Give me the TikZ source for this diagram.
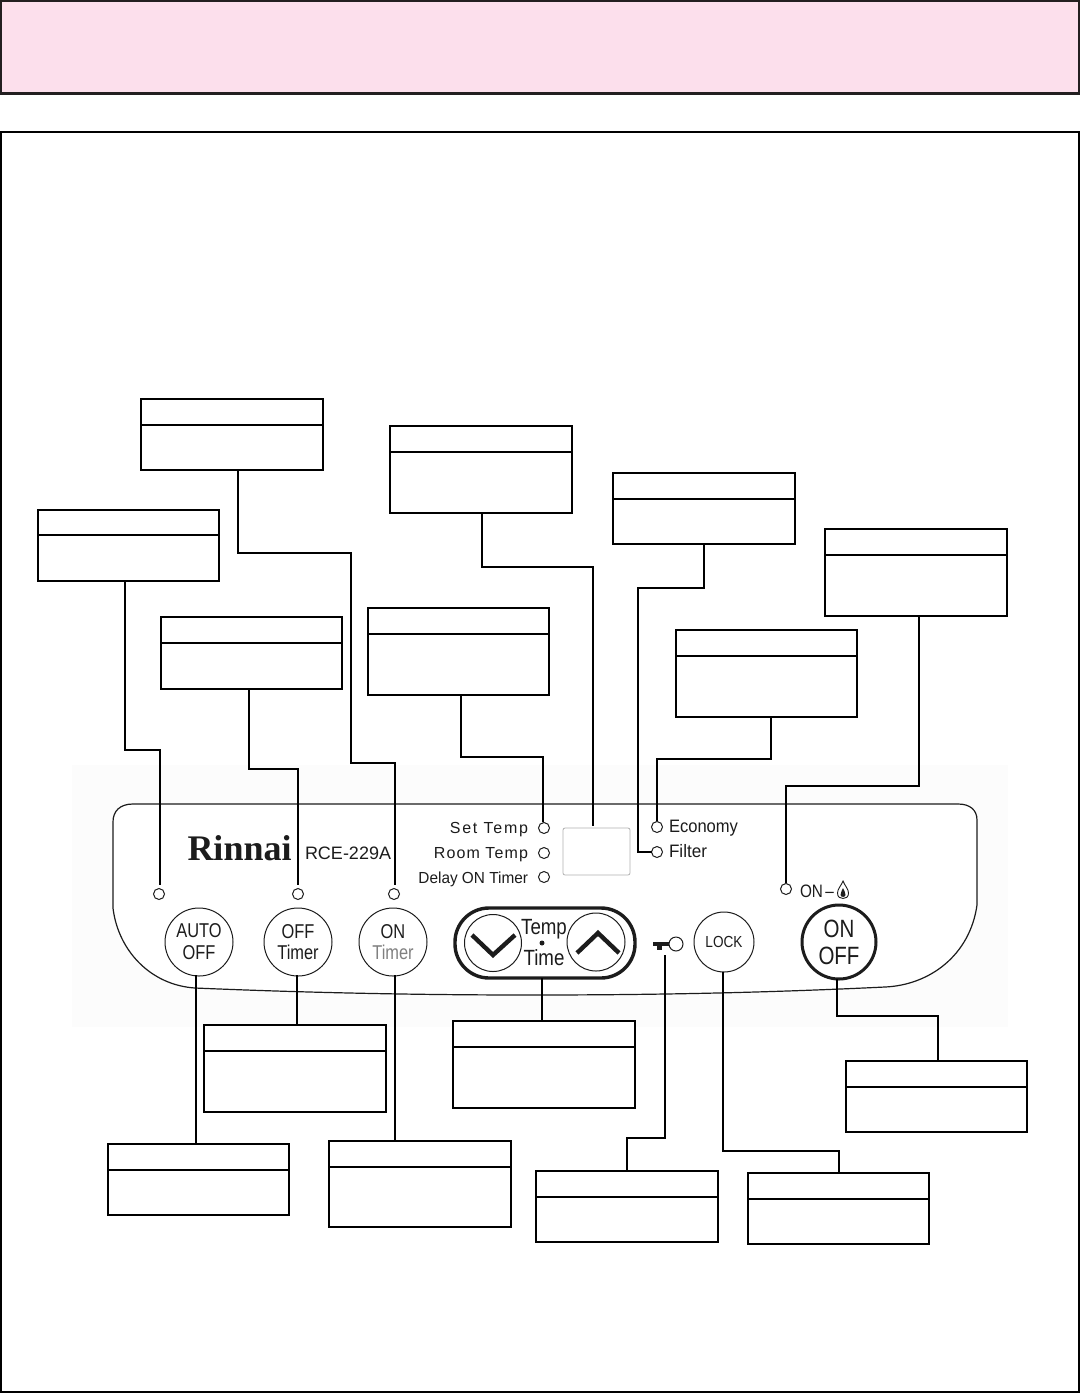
\documentclass[tikz,border=0pt]{standalone}
\usepackage{fontspec}
\usepackage{graphicx}
\setmainfont{Liberation Sans}
\newfontfamily\logofont{Liberation Serif}[Scale=1]
\definecolor{inkc}{HTML}{1C1C1C}
\newcommand{\sz}[1]{\fontsize{#1}{#1}\selectfont}
\newcommand{\nar}[1]{\scalebox{.82}[1]{#1}}
\tikzset{
  x=1pt,y=-1pt,
  framebox/.style={line width=2.2pt},
  callout/.style={draw=black,line width=2pt,fill=white,rectangle,inner sep=0pt,outer sep=0pt},
  wire/.style={draw=black,line width=2pt,line join=miter},
  led/.style={draw=inkc,line width=1pt,circle,fill=white,minimum size=11pt,inner sep=0pt,outer sep=0pt},
  btn/.style={draw=inkc,line width=1pt,circle,fill=white,inner sep=0pt,outer sep=0pt,align=center,text=inkc},
  ptext/.style={text=inkc,inner sep=0pt,outer sep=0pt},
  chev/.style={draw=inkc,line width=4.4pt,line join=miter}
}
\newcommand{\lblbox}[6]{%
  \pgfmathsetmacro{\cxx}{(#2+#4)/2}\pgfmathsetmacro{\cyy}{(#3+#5)/2}%
  \pgfmathsetmacro{\www}{#4-#2}\pgfmathsetmacro{\hhh}{#5-#3}%
  \node[callout,minimum width=\www pt,minimum height=\hhh pt] (#1) at (\cxx,\cyy) {};
  \draw[line width=2pt] (#2,#6) -- (#4,#6);
}
\begin{document}
\begin{tikzpicture}
\useasboundingbox (0,0) rectangle (1080,1393);
\fill[white] (0,0) rectangle (1080,1393);
% frames
\draw[framebox,draw={rgb,255:red,35;green,31;blue,32},fill={rgb,255:red,252;green,223;blue,236}] (1,1) rectangle (1079,93.5);
\draw[framebox,draw=black] (1,132) rectangle (1079,1392);
% panel
\fill[black!1] (72,765) rectangle (1008,1027);
\draw[draw=inkc,line width=1.2pt,fill=white]
 (133,804) -- (958,804) .. controls (970,804) and (977,810) .. (977,820)
 -- (977,905) .. controls (970,955) and (930,985) .. (885,987)
 .. controls (760,993) and (650,995) .. (530,995)
 .. controls (400,995) and (290,992) .. (195,988)
 .. controls (150,985) and (118,950) .. (113,908)
 -- (113,822) .. controls (113,811) and (120,804) .. (133,804) -- cycle;
% logo and labels
\node[ptext,anchor=base west] (logo) at (187.5,860) {\logofont\bfseries\sz{36}Rinnai};
\node[ptext,anchor=base west] (model) at (305,859) {\sz{18}RCE-229A};
\node[ptext,anchor=base east] (tSet) at (528,833) {\sz{16}\addfontfeature{LetterSpace=11}Set Temp};
\node[ptext,anchor=base east] (tRoom) at (528,858) {\sz{16}\addfontfeature{LetterSpace=7}Room Temp};
\node[ptext,anchor=base east] (tDelay) at (528,883) {\sz{16}\scalebox{.96}[1]{Delay ON Timer}};
\node[ptext,anchor=base west] (tEco) at (669,832) {\sz{18}\scalebox{.92}[1]{Economy}};
\node[ptext,anchor=base west] (tFil) at (669,857) {\sz{18}\scalebox{.95}[1]{Filter}};
\node[ptext,anchor=base west] (tOn) at (800,897) {\sz{18}\scalebox{.85}[1]{ON\,–}};
% flame
\draw[inkc,line width=.9pt] (843,881) .. controls (841,886) and (837.5,889) .. (837.5,893) .. controls (837.5,897) and (840,898.5) .. (843,898.5) .. controls (846,898.5) and (848.5,897) .. (848.5,893) .. controls (848.5,889) and (845,886) .. (843,881) -- cycle;
\fill[inkc] (843,888) .. controls (842,891) and (840.5,892) .. (840.5,895) .. controls (840.5,897.5) and (845.5,897.5) .. (845.5,895) .. controls (845.5,892) and (844,891) .. (843,888) -- cycle;
% LEDs
\node[led] (ledAuto) at (159,894) {};
\node[led] (ledOff) at (298,894) {};
\node[led] (ledOn) at (394,894) {};
\node[led] (ledSet) at (544,828) {};
\node[led] (ledRoom) at (544,853) {};
\node[led] (ledDelay) at (544,877) {};
\node[led] (ledEco) at (657,827) {};
\node[led] (ledFil) at (657,852) {};
\node[led] (ledFlame) at (786,889) {};
% display
\node[draw=gray!60,line width=.8pt,rounded corners=2pt,minimum width=67pt,minimum height=47pt,inner sep=0pt,outer sep=0pt] (disp) at (596.5,851.5) {};
% buttons
\node[btn,font=\sz{20},minimum size=68pt] (bAuto) at (199,942) {\nar{AUTO}\\[2pt]\nar{OFF}};
\node[btn,font=\sz{20},minimum size=68pt] (bOff) at (298,942) {\nar{OFF}\\[1pt]\nar{Timer}};
\node[btn,font=\sz{20},minimum size=68pt] (bOn) at (393,942) {\nar{ON}\\[1pt]\textcolor{gray}{\nar{Timer}}};
\node[draw=inkc,line width=3.4pt,rounded corners=34pt,minimum width=180pt,minimum height=70pt,inner sep=0pt,outer sep=0pt,fill=white] (pill) at (545,943) {};
\node[btn,minimum size=57pt] (bDown) at (493,943) {};
\node[btn,minimum size=58pt] (bUp) at (596,942) {};
\draw[chev] (472,935) -- (493,955) -- (515,935);
\draw[chev] (577,953) -- (598,933) -- (619,953);
\node[ptext] (tTemp) at (544,929) {\sz{22}\scalebox{.85}[1]{Temp}};
\node[ptext] (tTime) at (544,958) {\sz{22}\scalebox{.85}[1]{Time}};
\fill[inkc] (542,943) circle (2.5);
% key
\node[draw=inkc,line width=1pt,circle,minimum size=14pt,inner sep=0pt,outer sep=0pt] (keyc) at (676,944) {};
\fill[inkc] (653,942) rectangle (669,946);
\fill[inkc] (657,946) rectangle (662,949.5);
\node[btn,font=\sz{16},minimum size=60pt] (bLock) at (724,942) {\scalebox{.85}[1]{LOCK}};
\node[btn,font=\sz{25},line width=3pt,minimum size=74pt] (bPower) at (839,942) {\nar{ON}\\[2pt]\nar{OFF}};
% callouts
\lblbox{bxA}{141}{399}{323}{470}{425}
\lblbox{bxB}{390}{426}{572}{513}{452}
\lblbox{bxC}{613}{473}{795}{544}{499}
\lblbox{bxD}{38}{510}{219}{581}{535}
\lblbox{bxE}{825}{529}{1007}{616}{555}
\lblbox{bxF}{161}{617}{342}{689}{643}
\lblbox{bxG}{368}{608}{549}{695}{634}
\lblbox{bxH}{676}{630}{857}{717}{656}
\lblbox{bxI}{204}{1025}{386}{1112}{1051}
\lblbox{bxJ}{453}{1021}{635}{1108}{1047}
\lblbox{bxK}{846}{1061}{1027}{1132}{1087}
\lblbox{bxL}{108}{1144}{289}{1215}{1170}
\lblbox{bxM}{329}{1141}{511}{1227}{1167}
\lblbox{bxN}{536}{1171}{718}{1242}{1197}
\lblbox{bxO}{748}{1173}{929}{1244}{1199}
% connectors
\draw[wire] ([xshift=-3.5pt]bxD.south) -- ++(0,169) -| ([xshift=1pt,yshift=3.5pt]ledAuto.north);
\draw[wire] ([xshift=-2.5pt]bxF.south) -- ++(0,80) -| ([yshift=3.5pt]ledOff.north);
\draw[wire] ([xshift=6pt]bxA.south) -- ++(0,83) -- ++(113,0) -- ++(0,210) -| ([xshift=1pt,yshift=3.5pt]ledOn.north);
\draw[wire] ([xshift=2.5pt]bxG.south) -- ++(0,62) -| ([xshift=-1pt,yshift=1pt]ledSet.north);
\draw[wire] ([xshift=1pt]bxB.south) -- ++(0,54) -| ([xshift=-3.5pt,yshift=2pt]disp.north);
\draw[wire] ([xshift=0pt]bxC.south) -- ++(0,44) -- ++(-66,0) |- (ledFil.west);
\draw[wire] ([xshift=4.5pt]bxH.south) -- ++(0,42) -| ([yshift=1pt]ledEco.north);
\draw[wire] ([xshift=3pt]bxE.south) -- ++(0,170) -| ([yshift=1pt]ledFlame.north);
\draw[wire] ([xshift=-3pt,yshift=1pt]bAuto.south) -- ([xshift=-3pt,yshift=0pt]bAuto.south |- bxL.north);
\draw[wire] ([xshift=-1pt,yshift=1pt]bOff.south) -- ([xshift=-1pt]bOff.south |- bxI.north);
\draw[wire] ([xshift=2pt,yshift=1pt]bOn.south) -- ([xshift=2pt]bOn.south |- bxM.north);
\draw[wire] ([xshift=-3pt]pill.south) -- ([xshift=-3pt]pill.south |- bxJ.north);
\draw[wire] ([xshift=-11pt,yshift=-4pt]keyc.south) -- ++(0,183) -| (bxN.north);
\draw[wire] ([xshift=-1pt]bLock.south) -- ++(0,179) -| ([xshift=.5pt]bxO.north);
\draw[wire] ([xshift=-2pt]bPower.south) -- ++(0,37) -| ([xshift=1.5pt]bxK.north);
\end{tikzpicture}
\end{document}
